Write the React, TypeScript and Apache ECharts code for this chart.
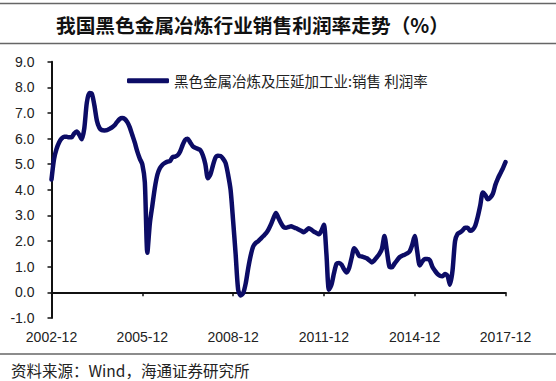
import React, { useEffect, useRef } from "react";
import * as echarts from "echarts";

// ---- data ----
const startYear = 2002;
const startMonth = 12; // first point: 2002-12
const seriesName = "黑色金属冶炼及压延加工业:销售 利润率";
const titleText = "我国黑色金属冶炼行业销售利润率走势（%）";
const sourceText = "资料来源：Wind，海通证券研究所";
const tickLabels = ["2002-12", "2005-12", "2008-12", "2011-12", "2014-12", "2017-12"];

// monthly values (%), 2002-12 .. 2017-12
const v2002 = [4.4];
const v2003 = [5.2, 5.6, 5.85, 6.0, 6.07, 6.07, 6.05, 6.05, 6.2, 6.28, 6.15, 5.97];
const v2004 = [6.4, 7.4, 7.78, 7.75, 7.3, 6.7, 6.42, 6.33, 6.32, 6.33, 6.38, 6.44];
const v2005 = [6.52, 6.65, 6.76, 6.8, 6.77, 6.65, 6.45, 6.15, 5.85, 5.5, 5.22, 5.0];
const v2006 = [4.3, 1.55, 2.7, 3.4, 4.1, 4.6, 4.85, 4.98, 5.05, 5.1, 5.12, 5.28];
const v2007 = [5.3, 5.35, 5.5, 5.75, 5.95, 5.99, 5.85, 5.7, 5.64, 5.6, 5.55, 5.35];
const v2008 = [5.0, 4.45, 4.6, 4.95, 5.25, 5.33, 5.32, 5.22, 5.05, 4.6, 4.0, 2.8];
const v2009 = [1.5, 0.1, -0.12, -0.03, 0.35, 0.95, 1.45, 1.8, 1.93, 2.0, 2.1, 2.2];
const v2010 = [2.3, 2.45, 2.65, 2.9, 3.1, 2.9, 2.7, 2.55, 2.52, 2.55, 2.58, 2.54];
const v2011 = [2.5, 2.45, 2.4, 2.35, 2.42, 2.5, 2.45, 2.37, 2.32, 2.27, 2.4, 2.64];
const v2012 = [1.5, 0.1, 0.3, 0.75, 1.12, 1.15, 1.08, 0.9, 0.78, 0.95, 1.35, 1.72];
const v2013 = [1.6, 1.42, 1.4, 1.37, 1.33, 1.25, 1.17, 1.25, 1.37, 1.5, 1.7, 2.2];
const v2014 = [1.6, 1.0, 0.98, 1.12, 1.25, 1.37, 1.43, 1.47, 1.52, 1.6, 1.85, 2.2];
const v2015 = [1.6, 1.05, 1.2, 1.3, 1.3, 1.25, 1.0, 0.85, 0.72, 0.65, 0.63, 0.72];
const v2016 = [0.65, 0.3, 0.85, 2.0, 2.28, 2.34, 2.42, 2.52, 2.52, 2.4, 2.45, 2.6];
const v2017 = [2.95, 3.4, 3.9, 3.8, 3.63, 3.7, 3.85, 4.2, 4.45, 4.65, 4.85, 5.08];

const values = [
  ...v2002, ...v2003, ...v2004, ...v2005, ...v2006, ...v2007, ...v2008, ...v2009,
  ...v2010, ...v2011, ...v2012, ...v2013, ...v2014, ...v2015, ...v2016, ...v2017,
];

const months: string[] = values.map((_, i) => {
  const total = startYear * 12 + (startMonth - 1) + i;
  const y = Math.floor(total / 12);
  const m = (total % 12) + 1;
  return `${y}-${m < 10 ? "0" + m : m}`;
});

const NAVY = "#0c0c66";
const CJK = "'Noto Sans CJK SC', sans-serif";
const LATIN = "'Liberation Sans', Arial, sans-serif";

export default function App() {
  const ref = useRef<HTMLDivElement>(null);
  useEffect(() => {
    if (!ref.current) return;
    const chart = echarts.init(ref.current, null, { renderer: "svg" });
    chart.setOption({
      animation: false,
      backgroundColor: "#ffffff",
      grid: { left: 51.5, right: 50.5, top: 61.7, bottom: 63, containLabel: false },
      legend: {
        data: [seriesName],
        left: 122,
        top: 68.5,
        icon: "roundRect",
        itemWidth: 42,
        itemHeight: 5,
        itemStyle: { color: NAVY },
        textStyle: { fontSize: 14.5, color: "#222", fontFamily: CJK },
      },
      xAxis: {
        type: "category",
        data: months,
        boundaryGap: false,
        axisLine: { onZero: true, lineStyle: { color: "#111", width: 2 } },
        axisTick: {
          show: true,
          interval: (idx: number, val: string) => tickLabels.includes(val),
          length: 4,
          lineStyle: { color: "#111", width: 1.5 },
        },
        axisLabel: {
          interval: (idx: number, val: string) => tickLabels.includes(val),
          margin: 12,
          fontSize: 14,
          color: "#222",
          fontFamily: LATIN,
          showMinLabel: true,
          showMaxLabel: true,
        },
        splitLine: { show: false },
      },
      yAxis: {
        type: "value",
        min: -1,
        max: 9,
        interval: 1,
        axisLine: { show: true, onZero: false, lineStyle: { color: "#111", width: 2 } },
        axisTick: { show: true, length: 4, lineStyle: { color: "#111", width: 1.5 } },
        axisLabel: {
          formatter: (v: number) => v.toFixed(1),
          margin: 17,
          fontSize: 14,
          color: "#222",
          fontFamily: LATIN,
        },
        splitLine: { show: false },
      },
      series: [
        {
          name: seriesName,
          type: "line",
          data: values,
          symbol: "none",
          showSymbol: false,
          smooth: 0.25,
          lineStyle: { color: NAVY, width: 4.5, cap: "round", join: "round" },
          itemStyle: { color: NAVY },
        },
      ],
      graphic: [
        { type: "line", shape: { x1: 0, y1: 3.5, x2: 556, y2: 3.5 }, style: { stroke: "#666", lineWidth: 1.5 } },
        { type: "line", shape: { x1: 0, y1: 43.5, x2: 556, y2: 43.5 }, style: { stroke: "#666", lineWidth: 1.5 } },
        { type: "line", shape: { x1: 0, y1: 354, x2: 556, y2: 354 }, style: { stroke: "#666", lineWidth: 1.5 } },
        {
          type: "text",
          x: 56,
          y: 24,
          style: {
            text: titleText,
            fontSize: 19.7,
            fontFamily: CJK,
            fontWeight: "bold",
            fill: "#111",
            textVerticalAlign: "middle",
            verticalAlign: "middle",
          },
        },
        {
          type: "text",
          x: 11,
          y: 369.5,
          style: {
            text: sourceText,
            fontSize: 15.5,
            fontFamily: CJK,
            fill: "#222",
            textVerticalAlign: "middle",
            verticalAlign: "middle",
          },
        },
      ],
    });
    return () => chart.dispose();
  }, []);
  return (
    <div
      ref={ref}
      style={{ position: "fixed", left: 0, top: 0, width: 556, height: 381, background: "#fff" }}
    />
  );
}
